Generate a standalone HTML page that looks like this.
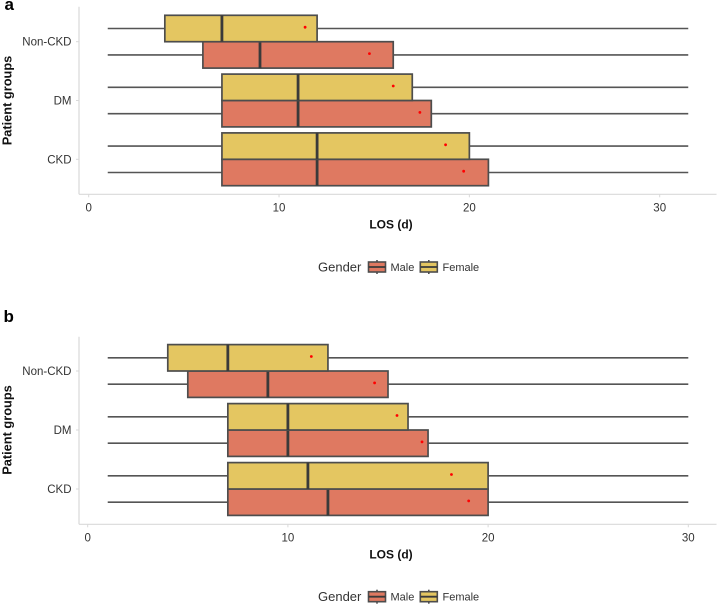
<!DOCTYPE html>
<html lang="en">
<head>
<meta charset="utf-8">
<title>LOS by patient group and gender</title>
<style>
html,body{margin:0;padding:0;background:#fff;width:719px;height:606px;overflow:hidden}
svg{display:block;font-family:"Liberation Sans",sans-serif}
</style>
</head>
<body>
<svg id="chart" width="719" height="606" viewBox="0 0 719 606" xmlns="http://www.w3.org/2000/svg"></svg>
<script>
// Shared data
const categories = ["CKD", "DM", "Non-CKD"];
const xTicks = [0, 10, 20, 30];

// Panel a: values ordered as categories
const aMaleLow = [1, 1, 1];
const aMaleQ1 = [7, 7, 6];
const aMaleMedian = [12, 11, 9];
const aMaleQ3 = [21, 18, 16];
const aMaleHigh = [31.5, 31.5, 31.5];
const aMaleMean = [19.7, 17.4, 14.75];
const aFemaleLow = [1, 1, 1];
const aFemaleQ1 = [7, 7, 4];
const aFemaleMedian = [12, 11, 7];
const aFemaleQ3 = [20, 17, 12];
const aFemaleHigh = [31.5, 31.5, 31.5];
const aFemaleMean = [18.75, 16, 11.37];

// Panel b: values ordered as categories
const bMaleLow = [1, 1, 1];
const bMaleQ1 = [7, 7, 5];
const bMaleMedian = [12, 10, 9];
const bMaleQ3 = [20, 17, 15];
const bMaleHigh = [30, 30, 30];
const bMaleMean = [19.03, 16.7, 14.33];
const bFemaleLow = [1, 1, 1];
const bFemaleQ1 = [7, 7, 4];
const bFemaleMedian = [11, 10, 7];
const bFemaleQ3 = [20, 16, 12];
const bFemaleHigh = [30, 30, 30];
const bFemaleMean = [18.17, 15.45, 11.17];

const MALE = "#df7961";
const FEMALE = "#e4c661";
const BOX_STROKE = "#4d4d4d";
const MEDIAN_STROKE = "#3a3a3a";
const AXIS = "#d9d9d9";
const TEXT = "#333333";

const svg = document.getElementById("chart");
const NS = "http://www.w3.org/2000/svg";

function line(parent, x1, y1, x2, y2, stroke, width) {
  const el = document.createElementNS(NS, "line");
  el.setAttribute("x1", x1);
  el.setAttribute("y1", y1);
  el.setAttribute("x2", x2);
  el.setAttribute("y2", y2);
  el.setAttribute("stroke", stroke);
  el.setAttribute("stroke-width", width);
  parent.appendChild(el);
  return el;
}
function rect(parent, x, y, w, h, fill, stroke, width) {
  const el = document.createElementNS(NS, "rect");
  el.setAttribute("x", x);
  el.setAttribute("y", y);
  el.setAttribute("width", w);
  el.setAttribute("height", h);
  el.setAttribute("fill", fill);
  el.setAttribute("stroke", stroke);
  el.setAttribute("stroke-width", width);
  parent.appendChild(el);
  return el;
}
function text(parent, str, x, y, size, weight, anchor, fill) {
  const el = document.createElementNS(NS, "text");
  el.setAttribute("x", x);
  el.setAttribute("y", y);
  el.setAttribute("font-size", size);
  el.setAttribute("font-weight", weight);
  el.setAttribute("text-anchor", anchor);
  el.setAttribute("fill", fill);
  el.textContent = str;
  parent.appendChild(el);
  return el;
}
function group(parent) {
  const el = document.createElementNS(NS, "g");
  parent.appendChild(el);
  return el;
}

function drawBox(parent, xScale, yTop, h, s, i, fill, name) {
  const g = group(parent);
  
  
  const mid = yTop + h / 2;
  line(g, xScale(s.low[i]), mid, xScale(s.q1[i]), mid, "#555555", 1.6);
  line(g, xScale(s.q3[i]), mid, xScale(s.high[i]), mid, "#555555", 1.6);
  rect(g, xScale(s.q1[i]), yTop, xScale(s.q3[i]) - xScale(s.q1[i]), h, fill, BOX_STROKE, 1.7);
  line(g, xScale(s.median[i]), yTop, xScale(s.median[i]), yTop + h, MEDIAN_STROKE, 2.8);
  const dot = document.createElementNS(NS, "circle");
  dot.setAttribute("cx", xScale(s.mean[i]));
  dot.setAttribute("cy", mid - 1.3);
  dot.setAttribute("r", 1.4);
  dot.setAttribute("fill", "#ff0000");
  
  
  g.appendChild(dot);
}

function drawKey(parent, x, cy, fill, name) {
  const g = group(parent);
  
  
  const w = 17, c = x + w / 2;
  line(g, c, cy - 7, c, cy + 7, BOX_STROKE, 1.6);
  rect(g, x, cy - 5, w, 10, fill, BOX_STROKE, 1.6);
  line(g, x, cy, x + w, cy, MEDIAN_STROKE, 1.8);
}

function drawPanel(cfg) {
  const p = group(svg);
  
  

  const xScale = v => cfg.x0 + v * (cfg.x30 - cfg.x0) / 30;
  const yCenter = i => cfg.yBottomCat - i * cfg.catStep;

  const letter = text(p, cfg.letter, cfg.letterX, cfg.letterY, 17, "bold", "start", "#000");
  
  

  // axes
  const xAxis = line(p, 79, cfg.axisY, 716.5, cfg.axisY, AXIS, 1.2);
  
  
  const yAxis = line(p, 79, cfg.axisTop, 79, cfg.axisY, AXIS, 1.2);
  
  

  xTicks.forEach(t => {
    line(p, xScale(t), cfg.axisY, xScale(t), cfg.axisY + 3, AXIS, 1);
    const lab = text(p, String(t), xScale(t), cfg.axisY + 17, 11.5, "normal", "middle", TEXT);
    
    
  });

  categories.forEach((c, i) => {
    const y = yCenter(i);
    line(p, 76, y, 79, y, AXIS, 1);
    const lab = text(p, c, 71.5, y + 4, 11.5, "normal", "end", TEXT);
    
    

    drawBox(p, xScale, y, cfg.boxH, cfg.male, i, MALE, "box-male-" + c.toLowerCase());
    drawBox(p, xScale, y - cfg.boxH, cfg.boxH, cfg.female, i, FEMALE, "box-female-" + c.toLowerCase());
  });

  const xTitle = text(p, "LOS (d)", 391, cfg.axisY + 34, 12, "bold", "middle", "#111");
  
  

  const yMid = yCenter(1);
  const yTitle = text(p, "Patient groups", 0, 0, 12.8, "bold", "middle", "#111");
  yTitle.setAttribute("transform", "translate(11.5," + yMid + ") rotate(-90)");
  
  

  // legend
  const lg = group(p);
  
  
  const ly = cfg.legendY;
  text(lg, "Gender", 318, ly + 4.5, 13, "normal", "start", TEXT);
  drawKey(lg, 368.5, ly, MALE, "legend-key-male");
  text(lg, "Male", 390.5, ly + 4, 11, "normal", "start", TEXT);
  drawKey(lg, 420.3, ly, FEMALE, "legend-key-female");
  text(lg, "Female", 442.5, ly + 4, 11, "normal", "start", TEXT);
}

drawPanel({
  name: "panel-a", letter: "a", letterX: 4.5, letterY: 10,
  x0: 88.7, x30: 659.7, axisY: 194.3, axisTop: 6.7,
  yBottomCat: 159.3, catStep: 58.8, boxH: 26.4, legendY: 267,
  male: {low: aMaleLow, q1: aMaleQ1, median: aMaleMedian, q3: aMaleQ3, high: aMaleHigh, mean: aMaleMean},
  female: {low: aFemaleLow, q1: aFemaleQ1, median: aFemaleMedian, q3: aFemaleQ3, high: aFemaleHigh, mean: aFemaleMean}
});
drawPanel({
  name: "panel-b", letter: "b", letterX: 3.5, letterY: 322,
  x0: 87.7, x30: 688.3, axisY: 524.3, axisTop: 336.7,
  yBottomCat: 489, catStep: 59, boxH: 26.4, legendY: 596.7,
  male: {low: bMaleLow, q1: bMaleQ1, median: bMaleMedian, q3: bMaleQ3, high: bMaleHigh, mean: bMaleMean},
  female: {low: bFemaleLow, q1: bFemaleQ1, median: bFemaleMedian, q3: bFemaleQ3, high: bFemaleHigh, mean: bFemaleMean}
});
</script>
</body>
</html>
